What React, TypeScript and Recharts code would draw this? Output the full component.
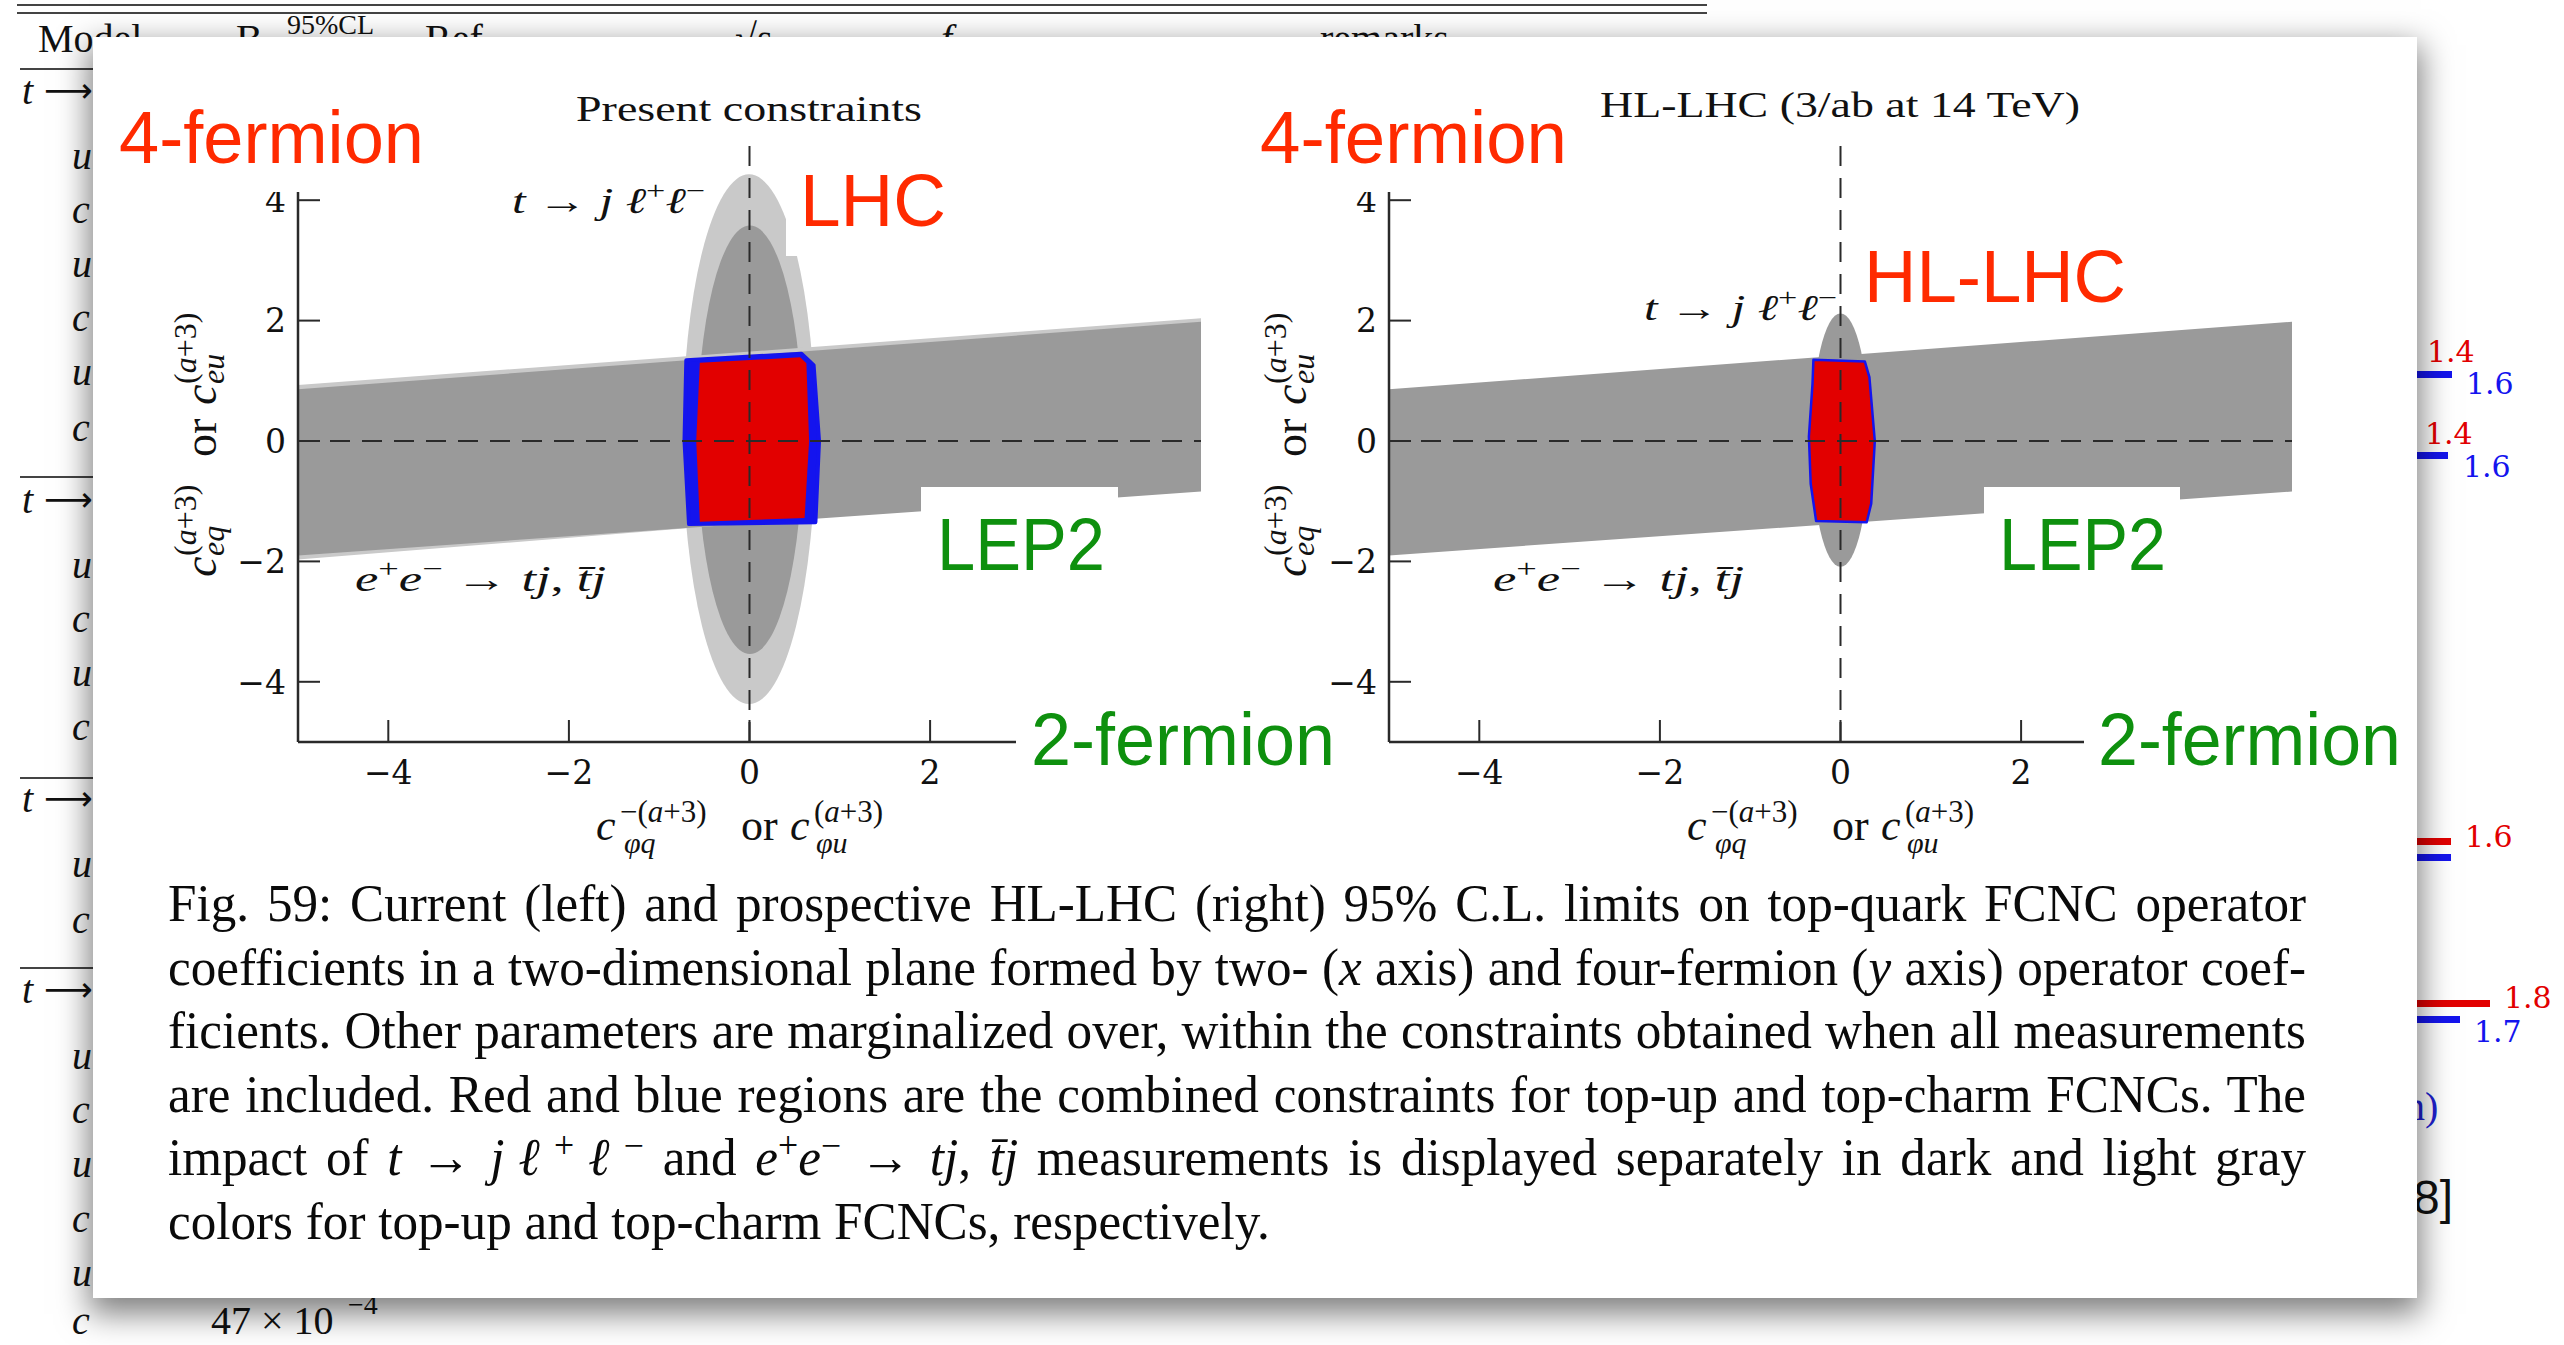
import React from "react";
import { ComposedChart, Scatter, XAxis, YAxis } from "recharts";

type Pt = { x: number; y: number };

const xTicks = [-4, -2, 0, 2];
const yTicks = [-4, -2, 0, 2, 4];
const axisDomain: [number, number] = [-5, 5];

// e+e- -> tj band from LEP2 (x: 2-fermion coefficient, y: 4-fermion coefficient)
const lepBandCharm: Pt[] = [
  { x: -5, y: 0.93 },
  { x: 5, y: 2.04 },
  { x: 5, y: -0.76 },
  { x: -5, y: -1.97 },
];
const lepBandUp: Pt[] = [
  { x: -5, y: 0.86 },
  { x: 5, y: 1.98 },
  { x: 5, y: -0.84 },
  { x: -5, y: -1.9 },
];

// t -> j l+ l- ellipses, as opposite corners of their bounding box
const lhcCharm: Pt[] = [
  { x: -0.74, y: -4.37 },
  { x: 0.73, y: 4.43 },
];
const lhcUp: Pt[] = [
  { x: -0.58, y: -3.54 },
  { x: 0.59, y: 3.58 },
];
const hlUp: Pt[] = [
  { x: -0.32, y: -2.09 },
  { x: 0.32, y: 2.12 },
];

// combined regions (red = top-up, blue = top-charm)
const presentCharmRegion: Pt[] = [
  { x: -0.7, y: 1.34 },
  { x: 0.575, y: 1.45 },
  { x: 0.71, y: 1.26 },
  { x: 0.77, y: 0 },
  { x: 0.73, y: -1.35 },
  { x: -0.67, y: -1.38 },
  { x: -0.72, y: 0 },
];
const presentUpRegion: Pt[] = [
  { x: -0.55, y: 1.3 },
  { x: 0.56, y: 1.39 },
  { x: 0.63, y: 1.29 },
  { x: 0.66, y: 0 },
  { x: 0.61, y: -1.28 },
  { x: -0.55, y: -1.34 },
  { x: -0.59, y: 0 },
];
const hlRegion: Pt[] = [
  { x: -0.3, y: 1.35 },
  { x: 0.27, y: 1.32 },
  { x: 0.32, y: 1.06 },
  { x: 0.38, y: 0 },
  { x: 0.34, y: -1.04 },
  { x: 0.29, y: -1.35 },
  { x: -0.27, y: -1.33 },
  { x: -0.33, y: -0.71 },
  { x: -0.35, y: 0.07 },
  { x: -0.31, y: 0.95 },
];

const zeroX: Pt[] = [
  { x: -5, y: 0 },
  { x: 5, y: 0 },
];
const zeroY: Pt[] = [
  { x: 0, y: -5 },
  { x: 0, y: 5 },
];

const LIGHT = "#c9c9c9";
const DARK = "#9a9a9a";
const RED = "#e20000";
const BLUE = "#1414ee";
const LABEL_RED = "#ff2a00";
const LABEL_GREEN = "#0e900e";
const INK = "#111";

const ptsAttr = (points: { x: number; y: number }[]) => points.map((p) => `${p.x},${p.y}`).join(" ");

const polygonLine = (fill: string, stroke = "none", strokeWidth = 0) => (props: any) => (
  <polygon points={ptsAttr(props.points)} fill={fill} stroke={stroke} strokeWidth={strokeWidth} strokeLinejoin="round" />
);

const ellipseLine = (fill: string) => (props: any) => {
  const [a, b] = props.points;
  return (
    <ellipse
      cx={(a.x + b.x) / 2}
      cy={(a.y + b.y) / 2}
      rx={Math.abs(b.x - a.x) / 2}
      ry={Math.abs(b.y - a.y) / 2}
      fill={fill}
    />
  );
};

const dashedLine = (props: any) => {
  const [a, b] = props.points;
  return <line x1={a.x} y1={a.y} x2={b.x} y2={b.y} stroke="#2a2a2a" strokeWidth={2} strokeDasharray="20 12" />;
};

const noPoint = () => <g />;
const blankTick = () => <g />;
const fmt = (v: number) => (v < 0 ? `\u2212${Math.abs(v)}` : `${v}`);

const axisStroke = "#2a2a2a";
const tickFont = { fontFamily: "DejaVu Serif", fontSize: 33, fill: INK };

function series(key: string, data: Pt[], line: any) {
  return (
    <Scatter
      key={key}
      data={data}
      line={line}
      shape={noPoint}
      legendType="none"
      zIndex={100}
      isAnimationActive={false}
    />
  );
}

function axes() {
  return [
    <XAxis
      key="xb"
      xAxisId={0}
      dataKey="x"
      type="number"
      domain={axisDomain}
      ticks={xTicks}
      allowDataOverflow
      height={70}
      tickSize={-22}
      tickMargin={41}
      tickFormatter={fmt}
      tick={tickFont}
      axisLine={{ stroke: axisStroke, strokeWidth: 2.5 }}
      tickLine={{ stroke: axisStroke, strokeWidth: 2 }}
    />,
    <XAxis
      key="xt"
      xAxisId="top"
      orientation="top"
      dataKey="x"
      type="number"
      domain={axisDomain}
      ticks={xTicks}
      allowDataOverflow
      height={0}
      tickSize={-22}
      tick={blankTick}
      axisLine={{ stroke: axisStroke, strokeWidth: 2.5 }}
      tickLine={{ stroke: axisStroke, strokeWidth: 2 }}
    />,
    <YAxis
      key="yl"
      yAxisId={0}
      dataKey="y"
      type="number"
      domain={axisDomain}
      ticks={yTicks}
      allowDataOverflow
      width={80}
      tickSize={-22}
      tickMargin={34}
      tickFormatter={fmt}
      tick={tickFont}
      axisLine={{ stroke: axisStroke, strokeWidth: 2.5 }}
      tickLine={{ stroke: axisStroke, strokeWidth: 2 }}
    />,
    <YAxis
      key="yr"
      yAxisId="right"
      orientation="right"
      dataKey="y"
      type="number"
      domain={axisDomain}
      ticks={yTicks}
      allowDataOverflow
      width={0}
      tickSize={-22}
      tick={blankTick}
      axisLine={{ stroke: axisStroke, strokeWidth: 2.5 }}
      tickLine={{ stroke: axisStroke, strokeWidth: 2 }}
    />,
  ];
}

const chartMargin = { top: 20, right: 20, bottom: 0, left: 0 };

function PresentPanel() {
  return (
    <div style={{ position: "absolute", left: 218, top: 120 }}>
      <ComposedChart width={1003} height={692} margin={chartMargin}>
        {series("lhcC", lhcCharm, ellipseLine(LIGHT))}
        {series("lhcU", lhcUp, ellipseLine(DARK))}
        {series("lepC", lepBandCharm, polygonLine(LIGHT))}
        {series("lepU", lepBandUp, polygonLine(DARK))}
        {series("comC", presentCharmRegion, polygonLine(BLUE, BLUE, 4))}
        {series("comU", presentUpRegion, polygonLine(RED))}
        {series("zx", zeroX, dashedLine)}
        {series("zy", zeroY, dashedLine)}
        {axes()}
      </ComposedChart>
    </div>
  );
}

function FuturePanel() {
  return (
    <div style={{ position: "absolute", left: 1309, top: 120 }}>
      <ComposedChart width={1003} height={692} margin={chartMargin}>
        {series("hl", hlUp, ellipseLine(DARK))}
        {series("lep", lepBandUp, polygonLine(DARK))}
        {series("com", hlRegion, polygonLine(RED, BLUE, 2.5))}
        {series("zx", zeroX, dashedLine)}
        {series("zy", zeroY, dashedLine)}
        {axes()}
      </ComposedChart>
    </div>
  );
}

const serif = "Liberation Serif";
const sans = "Liberation Sans";

function YLabel({ x, y }: { x: number; y: number }) {
  return (
    <g transform={`translate(${x},${y}) rotate(-90)`} fontFamily={serif} fill={INK}>
      <text x={-135} y={0} fontSize={46} fontStyle="italic">c</text>
      <text x={-114} y={8} fontSize={32} fontStyle="italic">eq</text>
      <text x={-114} y={-20} fontSize={32}>
        (<tspan fontStyle="italic">a</tspan>+3)
      </text>
      <text x={-15} y={0} fontSize={46}>or</text>
      <text x={37} y={0} fontSize={46} fontStyle="italic">c</text>
      <text x={58} y={8} fontSize={32} fontStyle="italic">eu</text>
      <text x={58} y={-20} fontSize={32}>
        (<tspan fontStyle="italic">a</tspan>+3)
      </text>
    </g>
  );
}

function XLabel({ x }: { x: number }) {
  return (
    <g fontFamily={serif} fill={INK}>
      <text x={x} y={840} fontSize={44} fontStyle="italic">c</text>
      <text x={x + 28} y={853} fontSize={30} fontStyle="italic">φq</text>
      <text x={x + 24} y={822} fontSize={31}>
        −(<tspan fontStyle="italic">a</tspan>+3)
      </text>
      <text x={x + 145} y={840} fontSize={44}>or</text>
      <text x={x + 194} y={840} fontSize={44} fontStyle="italic">c</text>
      <text x={x + 220} y={853} fontSize={30} fontStyle="italic">φu</text>
      <text x={x + 218} y={822} fontSize={31}>
        (<tspan fontStyle="italic">a</tspan>+3)
      </text>
    </g>
  );
}

function Decay({ x, y }: { x: number; y: number }) {
  return (
    <text x={x} y={y} fontFamily={serif} fontSize={36} fill={INK} textLength={193} lengthAdjust="spacingAndGlyphs">
      <tspan fontStyle="italic">t</tspan> → <tspan fontStyle="italic">j ℓ</tspan>
      <tspan dy={-14} fontSize={25}>+</tspan>
      <tspan dy={14} fontStyle="italic">ℓ</tspan>
      <tspan dy={-14} fontSize={25}>−</tspan>
    </text>
  );
}

function Production({ x, y }: { x: number; y: number }) {
  return (
    <text x={x} y={y} fontFamily={serif} fontSize={36} fill={INK} textLength={251} lengthAdjust="spacingAndGlyphs">
      <tspan fontStyle="italic">e</tspan>
      <tspan dy={-14} fontSize={25}>+</tspan>
      <tspan dy={14} fontStyle="italic">e</tspan>
      <tspan dy={-14} fontSize={25}>−</tspan>
      <tspan dy={14}> → </tspan>
      <tspan fontStyle="italic">tj</tspan>, <tspan fontStyle="italic">{"t\u0304j"}</tspan>
    </text>
  );
}

function BigLabel({ x, y, w, color, children }: { x: number; y: number; w: number; color: string; children: string }) {
  return (
    <text x={x} y={y} fontFamily={sans} fontSize={74} fill={color} textLength={w} lengthAdjust="spacingAndGlyphs">
      {children}
    </text>
  );
}

function Overlay() {
  return (
    <svg width={2564} height={1345} style={{ position: "absolute", left: 0, top: 0 }}>
      {/* white boxes behind the annotations */}
      <rect x={110} y={95} width={328} height={97} fill="#fff" />
      <rect x={1250} y={95} width={331} height={97} fill="#fff" />
      <rect x={786} y={160} width={175} height={96} fill="#fff" />
      <rect x={921} y={487} width={197} height={100} fill="#fff" />
      <rect x={1984} y={487} width={196} height={100} fill="#fff" />
      <rect x={1016} y={686} width={330} height={100} fill="#fff" />
      <rect x={2084} y={686} width={330} height={100} fill="#fff" />

      <BigLabel x={119} y={163} w={305} color={LABEL_RED}>4-fermion</BigLabel>
      <BigLabel x={1260} y={163} w={307} color={LABEL_RED}>4-fermion</BigLabel>
      <BigLabel x={800} y={226} w={146} color={LABEL_RED}>LHC</BigLabel>
      <BigLabel x={1864} y={302} w={262} color={LABEL_RED}>HL-LHC</BigLabel>
      <BigLabel x={937} y={570} w={168} color={LABEL_GREEN}>LEP2</BigLabel>
      <BigLabel x={1999} y={570} w={167} color={LABEL_GREEN}>LEP2</BigLabel>
      <BigLabel x={1031} y={765} w={304} color={LABEL_GREEN}>2-fermion</BigLabel>
      <BigLabel x={2098} y={765} w={303} color={LABEL_GREEN}>2-fermion</BigLabel>

      <text x={576} y={121} fontFamily={serif} fontSize={36} fill={INK} textLength={346} lengthAdjust="spacingAndGlyphs">
        Present constraints
      </text>
      <text x={1600} y={117} fontFamily={serif} fontSize={36} fill={INK} textLength={480} lengthAdjust="spacingAndGlyphs">
        HL-LHC (3/ab at 14 TeV)
      </text>

      <Decay x={512} y={213} />
      <Decay x={1644} y={320} />
      <Production x={355} y={591} />
      <Production x={1493} y={591} />

      <YLabel x={216} y={442} />
      <YLabel x={1306} y={442} />
      <XLabel x={596} />
      <XLabel x={1687} />
    </svg>
  );
}

function PageBehind() {
  const rows = [
    { y: 104, s: "t" }, { y: 169, s: "u" }, { y: 223, s: "c" }, { y: 277, s: "u" }, { y: 331, s: "c" },
    { y: 385, s: "u" }, { y: 441, s: "c" }, { y: 513, s: "t" }, { y: 578, s: "u" }, { y: 632, s: "c" },
    { y: 686, s: "u" }, { y: 740, s: "c" }, { y: 812, s: "t" }, { y: 877, s: "u" }, { y: 933, s: "c" },
    { y: 1003, s: "t" }, { y: 1069, s: "u" }, { y: 1123, s: "c" }, { y: 1177, s: "u" }, { y: 1232, s: "c" },
    { y: 1286, s: "u" }, { y: 1334, s: "c" },
  ];
  return (
    <svg width={2564} height={1345} style={{ position: "absolute", left: 0, top: 0 }}>
      <line x1={17} x2={1707} y1={5} y2={5} stroke="#444" strokeWidth={2} />
      <line x1={17} x2={1707} y1={13} y2={13} stroke="#444" strokeWidth={2} />
      <g fontFamily={serif} fontSize={40} fill={INK}>
        <text x={38} y={52}>Model</text>
        <text x={236} y={52}>B</text>
        <text x={287} y={34} fontSize={28}>95%CL</text>
        <text x={425} y={52}>Ref.</text>
        <text x={735} y={52}>√s</text>
        <text x={941} y={52} fontStyle="italic">f</text>
        <text x={1320} y={52}>remarks</text>
      </g>
      {[69, 477, 778, 968].map((y) => (
        <line key={y} x1={20} x2={1707} y1={y} y2={y} stroke="#444" strokeWidth={2} />
      ))}
      <g fontFamily={serif} fontSize={40} fill={INK} fontStyle="italic">
        {rows.map((r) =>
          r.s === "t" ? (
            <g key={r.y}>
              <text x={22} y={r.y}>t</text>
              <text x={44} y={r.y - 2} fontStyle="normal" fontFamily="DejaVu Sans" fontSize={34}>⟶</text>
            </g>
          ) : (
            <text key={r.y} x={72} y={r.y}>{r.s}</text>
          )
        )}
        <text x={211} y={1334} fontStyle="normal">47 × 10</text>
        <text x={348} y={1314} fontStyle="normal" fontSize={28}>−4</text>
      </g>
      <g fontFamily="DejaVu Serif" fontSize={30}>
        <rect x={2405} y={371} width={47} height={7} fill={BLUE} />
        <text x={2427} y={362} fill={RED}>1.4</text>
        <text x={2466} y={394} fill={BLUE}>1.6</text>
        <rect x={2405} y={452} width={43} height={7} fill={BLUE} />
        <text x={2425} y={444} fill={RED}>1.4</text>
        <text x={2463} y={477} fill={BLUE}>1.6</text>
        <rect x={2405} y={838} width={46} height={7} fill={RED} />
        <rect x={2405} y={854} width={46} height={7} fill={BLUE} />
        <text x={2465} y={847} fill={RED}>1.6</text>
        <rect x={2405} y={1000} width={85} height={7} fill={RED} />
        <rect x={2405} y={1016} width={55} height={7} fill={BLUE} />
        <text x={2504} y={1008} fill={RED}>1.8</text>
        <text x={2474} y={1042} fill={BLUE}>1.7</text>
      </g>
      <text x={2405} y={1120} fontFamily={serif} fontSize={40} fill="#2020d0">n)</text>
      <text x={2453} y={1214} fontFamily={sans} fontSize={48} fill={INK} textAnchor="end">[18]</text>
    </svg>
  );
}

const supStyle: React.CSSProperties = { fontSize: "0.7em", verticalAlign: "0.45em", lineHeight: 0 };

const captionLines: React.ReactNode[] = [
  <>Fig. 59: Current (left) and prospective HL-LHC (right) 95% C.L. limits on top-quark FCNC operator</>,
  <>
    coefficients in a two-dimensional plane formed by two- (<i>x</i> axis) and four-fermion (<i>y</i> axis) operator coef-
  </>,
  <>ficients. Other parameters are marginalized over, within the constraints obtained when all measurements</>,
  <>are included. Red and blue regions are the combined constraints for top-up and top-charm FCNCs. The</>,
  <>
    impact of <i>t</i> → <i>jℓ</i>
    <sup style={supStyle}>+</sup>
    <i>ℓ</i>
    <sup style={supStyle}>−</sup> and <i>e</i>
    <sup style={supStyle}>+</sup>
    <i>e</i>
    <sup style={supStyle}>−</sup> → <i>tj</i>, <i>{"t\u0304j"}</i> measurements is displayed separately in dark and
    light gray
  </>,
  <>colors for top-up and top-charm FCNCs, respectively.</>,
];

const CAPTION_SQUEEZE = 0.965;

function Caption() {
  return (
    <>
      {captionLines.map((line, i) => {
        const last = i === captionLines.length - 1;
        return (
          <div
            key={i}
            style={{
              position: "absolute",
              left: 168,
              top: 872 + i * 63.5,
              width: 2138 / CAPTION_SQUEEZE,
              transform: `scaleX(${CAPTION_SQUEEZE})`,
              transformOrigin: "0 0",
              fontFamily: '"Liberation Serif", serif',
              fontSize: 53,
              lineHeight: "63.5px",
              wordSpacing: last ? "0" : "-0.16em",
              color: "#0a0a0a",
              textAlign: last ? "left" : "justify",
              textAlignLast: last ? "left" : "justify",
            }}
          >
            {line}
          </div>
        );
      })}
    </>
  );
}

export default function App() {
  return (
    <div
      style={{
        position: "absolute",
        left: 0,
        top: 0,
        width: 2564,
        height: 1345,
        overflow: "hidden",
        background: "#fff",
      }}
    >
      <PageBehind />
      <div
        style={{
          position: "absolute",
          left: 93,
          top: 37,
          width: 2324,
          height: 1261,
          background: "#fff",
          boxShadow: "0 12px 30px 4px rgba(0,0,0,0.5)",
        }}
      />
      <PresentPanel />
      <FuturePanel />
      <Overlay />
      <Caption />
    </div>
  );
}
